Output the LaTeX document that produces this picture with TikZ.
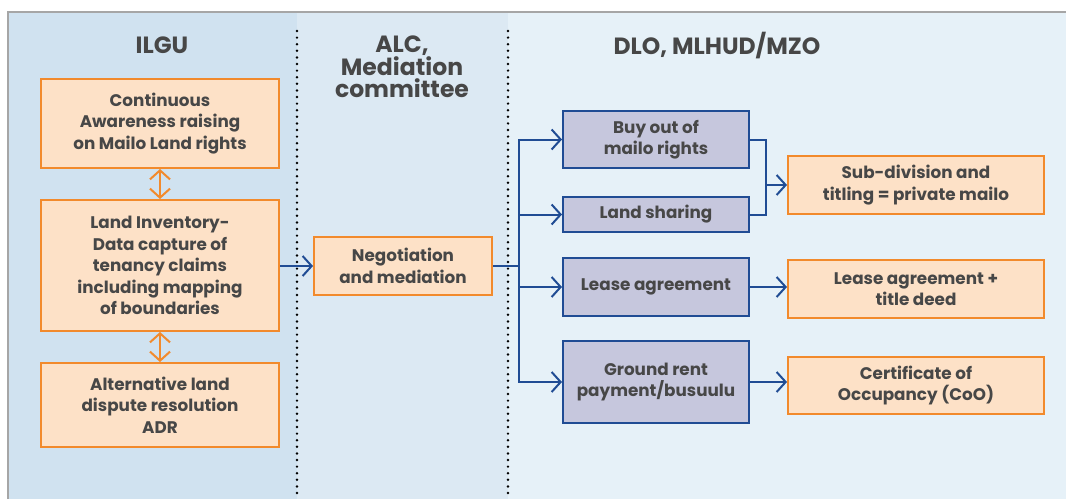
\documentclass[tikz,border=0pt]{standalone}
\usepackage{fontspec}
\setmainfont{Poppins}
\usepackage{xcolor}
\usepackage{tikz}
\usetikzlibrary{arrows.meta,positioning}

\definecolor{txtgray}{HTML}{474747}
\definecolor{orgline}{HTML}{F28A2C}
\definecolor{orgfill}{HTML}{FDE1C7}
\definecolor{bluline}{HTML}{204C94}
\definecolor{blufill}{HTML}{C6C7DD}
\definecolor{colone}{HTML}{D0E2F0}
\definecolor{coltwo}{HTML}{DCE9F3}
\definecolor{colthree}{HTML}{E6F1F8}
\definecolor{framegray}{HTML}{A6A6A6}

\begin{document}
\begin{tikzpicture}[
			x=1pt, y=-1pt,
			every node/.style={text=txtgray, font=\bfseries\fontsize{16.8}{21.5}\selectfont, align=center, inner sep=0pt},
			orgbox/.style={draw=orgline, fill=orgfill, line width=2pt},
			blubox/.style={draw=bluline, fill=blufill, line width=2pt},
			header/.style={font=\bfseries\fontsize{23.5}{22.5}\selectfont},
			flow/.style={draw=bluline, line width=2pt, -{Straight Barb[length=9pt,width=20pt,line width=2pt]}},
			link/.style={draw=orgline, line width=2pt, {Straight Barb[length=9pt,width=20pt,line width=2pt]}-{Straight Barb[length=9pt,width=20pt,line width=2pt]}},
			divider/.style={line width=2.7pt, line cap=round, dash pattern=on 0pt off 6.6pt}
			]

				\useasboundingbox (0,0) rectangle (1066,499);

				\fill[white] (0,0) rectangle (1066,499);
				\fill[colone] (8,12) rectangle (297,499);
				\fill[coltwo] (297,12) rectangle (508,499);
				\fill[colthree] (508,12) rectangle (1066,499);
				\draw[framegray, line width=1.5pt] (8,499) -- (8,12) -- (1066,12);

				\draw[divider] (297,31) -- (297,499);
				\draw[divider] (508,31) -- (508,499);

				\node[header] (ilgu) at (162,45) {ILGU};
				\node[header] (alc) at (402,67) {ALC,\\Mediation\\committee};
				\node[header] (dlo) at (717,46) {DLO, MLHUD/MZO};

				\node[orgbox, minimum width=238pt, minimum height=89pt] (aware) at (160,123.5) {Continuous\\Awareness raising\\on Mailo Land rights};
				\node[orgbox, minimum width=238pt, minimum height=131pt] (inventory) at (160,265.5) {Land Inventory-\\Data capture of\\tenancy claims\\including mapping\\of boundaries};
				\node[orgbox, minimum width=238pt, minimum height=84pt] (adr) at (160,405) {Alternative land\\dispute resolution\\ADR};

				\node[orgbox, minimum width=178pt, minimum height=58pt] (negotiate) at (403,266) {Negotiation\\and mediation};

				\node[blubox, minimum width=186pt, minimum height=57pt] (buyout) at (656,139.5) {Buy out of\\mailo rights};
				\node[blubox, minimum width=186pt, minimum height=35pt] (sharing) at (656,214.5) {Land sharing};
				\node[blubox, minimum width=186pt, minimum height=58pt] (lease) at (656,287) {Lease agreement};
				\node[blubox, minimum width=186pt, minimum height=82pt] (rent) at (656,382) {Ground rent\\payment/busuulu};

				\node[orgbox, minimum width=256pt, minimum height=58pt] (titling) at (916,185) {Sub-division and\\titling = private mailo};
				\node[orgbox, minimum width=256pt, minimum height=58pt] (deed) at (916,289) {Lease agreement +\\title deed};
				\node[orgbox, minimum width=256pt, minimum height=57pt] (coo) at (916,385.5) {Certificate of\\Occupancy (CoO)};

				\coordinate (split) at (519,266);
				\coordinate (merge) at (766,185);

				\draw[link] (aware) -- (inventory);
				\draw[link] (inventory) -- (adr);
				\draw[flow] (inventory.east |- negotiate) -- (negotiate);

				\draw[bluline, line width=2pt] (negotiate.east) -- (split);
				\draw[flow] (split) |- (buyout.west);
				\draw[flow] (split) |- (sharing.west);
				\draw[flow] (split) |- (lease.west);
				\draw[flow] (split) |- (rent.west);

				\draw[bluline, line width=2pt] (buyout.east) -| (merge) |- (sharing.east);
				\draw[flow] (merge) -- (titling);
				\draw[flow] (lease) -- (deed.west |- lease);
				\draw[flow] (rent) -- (coo.west |- rent);

			\end{tikzpicture}
\end{document}
